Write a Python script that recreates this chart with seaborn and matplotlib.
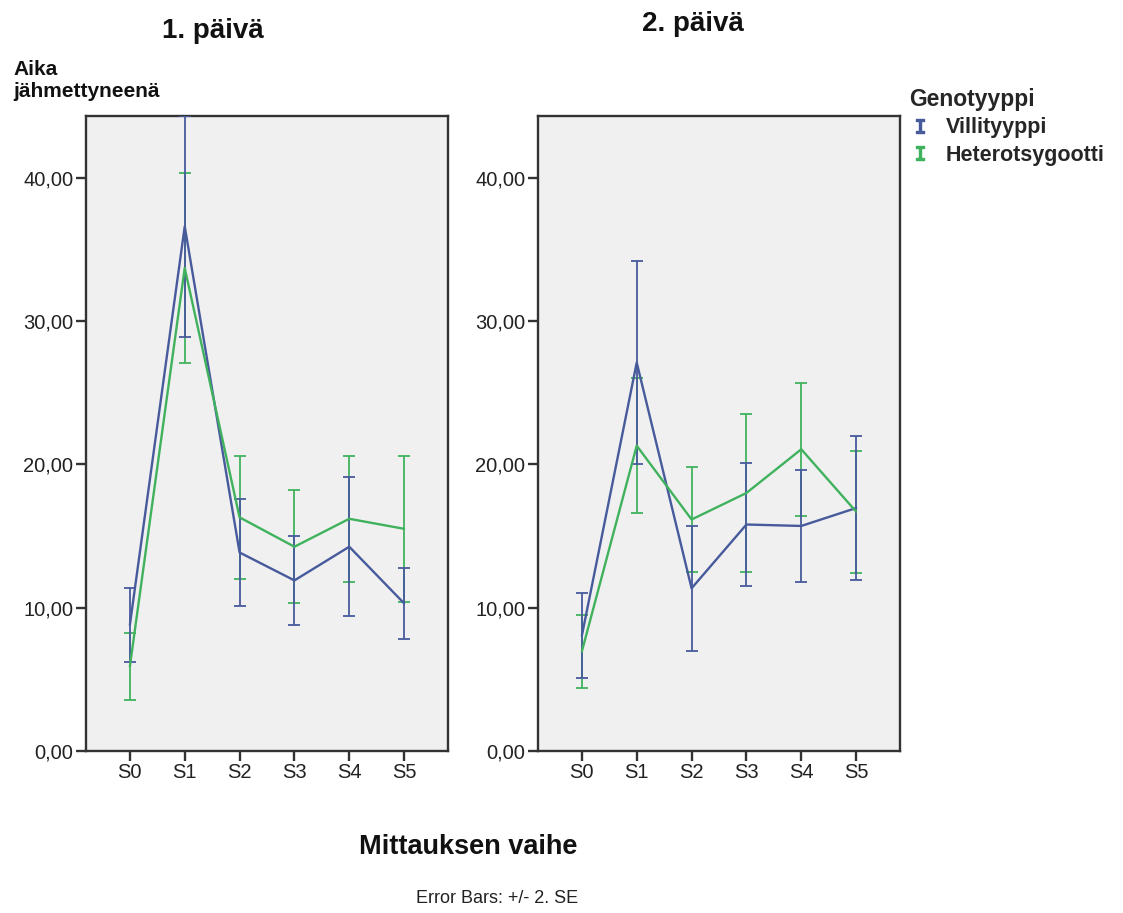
import matplotlib
matplotlib.use("Agg")
import matplotlib.pyplot as plt
from matplotlib.ticker import FuncFormatter, FixedLocator
from matplotlib.lines import Line2D
import seaborn as sns
import pandas as pd
import numpy as np

# ---- data ----
stages = ["S0", "S1", "S2", "S3", "S4", "S5"]
groups = ["Villityyppi", "Heterotsygootti"]
days = ["1. päivä", "2. päivä"]

day1_villi_mean = [8.8, 36.6, 13.85, 11.9, 14.25, 10.3]
day1_villi_err = [2.6, 7.7, 3.75, 3.1, 4.85, 2.5]
day1_hetero_mean = [5.9, 33.7, 16.3, 14.25, 16.2, 15.5]
day1_hetero_err = [2.35, 6.6, 4.3, 3.95, 4.4, 5.1]

day2_villi_mean = [8.05, 27.1, 11.35, 15.8, 15.7, 16.95]
day2_villi_err = [2.95, 7.1, 4.35, 4.3, 3.9, 5.05]
day2_hetero_mean = [6.95, 21.3, 16.15, 18.0, 21.05, 16.7]
day2_hetero_err = [2.55, 4.7, 3.65, 5.5, 4.65, 4.25]

yticks = [0, 10, 20, 30, 40]

# ---- style ----
sns.set_theme(style="white")
plt.rcParams["font.family"] = ["Liberation Sans", "DejaVu Sans"]

colors = {"Villityyppi": "#475a9c", "Heterotsygootti": "#40b25e"}

rows = []
for day, vm, ve, hm, he in [
    (days[0], day1_villi_mean, day1_villi_err, day1_hetero_mean, day1_hetero_err),
    (days[1], day2_villi_mean, day2_villi_err, day2_hetero_mean, day2_hetero_err),
]:
    for g, m, e in [(groups[0], vm, ve), (groups[1], hm, he)]:
        for s, mv, ev in zip(stages, m, e):
            rows.append({"day": day, "group": g, "stage": s, "mean": mv, "err": ev})
df = pd.DataFrame(rows)
df["pos"] = df["stage"].map({s: i for i, s in enumerate(stages)})

fig = plt.figure(figsize=(11.23, 9.13), dpi=100)
W, H = 1123, 913
ax_rects = [
    (86 / W, 1 - 751 / H, 362 / W, 635 / H),
    (538 / W, 1 - 751 / H, 362 / W, 635 / H),
]

spine_col = "#333333"
for i, day in enumerate(days):
    ax = fig.add_axes(ax_rects[i])
    ax.set_facecolor("#f0f0f0")
    sub = df[df["day"] == day]
    for g in [groups[1], groups[0]]:
        d = sub[sub["group"] == g]
        ax.errorbar(d["pos"], d["mean"], yerr=d["err"], fmt="none",
                    ecolor=colors[g], elinewidth=1.3, capsize=4.5, capthick=1.3,
                    zorder=3)
    sns.lineplot(data=sub, x="pos", y="mean", hue="group", hue_order=groups,
                 palette=colors, linewidth=1.7, legend=False, ax=ax,
                 errorbar=None, sort=False, zorder=4)
    ax.set_xlim(-0.8, 5.8)
    ax.set_ylim(0, 44.3)
    ax.xaxis.set_major_locator(FixedLocator(range(len(stages))))
    ax.set_xticklabels(stages)
    ax.yaxis.set_major_locator(FixedLocator(yticks))
    ax.yaxis.set_major_formatter(FuncFormatter(lambda v, p: f"{v:.2f}".replace(".", ",")))
    ax.set_xlabel("")
    ax.set_ylabel("")
    for sp in ax.spines.values():
        sp.set_color(spine_col)
        sp.set_linewidth(1.7)
    ax.tick_params(axis="both", which="major", direction="out", length=7, width=1.7,
                   color=spine_col, labelsize=14.5, labelcolor="#222222",
                   left=True, bottom=True, pad=2)

fig.text(213 / W, 1 - 38 / H, days[0], ha="center", va="baseline",
         fontsize=20, fontweight="bold", color="#111111")
fig.text(693 / W, 1 - 31 / H, days[1], ha="center", va="baseline",
         fontsize=20, fontweight="bold", color="#111111")
fig.text(13 / W, 1 - 75 / H, "Aika", ha="left", va="baseline",
         fontsize=15, fontweight="bold", color="#111111")
fig.text(13 / W, 1 - 97 / H, "jähmettyneenä", ha="left", va="baseline",
         fontsize=15, fontweight="bold", color="#111111")
fig.text(468 / W, 1 - 847 / H, "Mittauksen vaihe", ha="center", va="center",
         fontsize=19.5, fontweight="bold", color="#111111")
fig.text(497 / W, 1 - 898 / H, "Error Bars: +/- 2. SE", ha="center", va="center",
         fontsize=13, color="#222222")

handles = [Line2D([0], [0], linestyle="none", marker=r"$\mathtt{I}$",
                  markersize=10, color=colors[g]) for g in groups]
leg = fig.legend(handles, groups, title="Genotyyppi", loc="upper left",
                 bbox_to_anchor=(909 / W, 1 - 88 / H), frameon=False,
                 handlelength=1.0, handletextpad=0.7, borderaxespad=0,
                 borderpad=0, labelspacing=0.3,
                 prop={"weight": "bold", "size": 15.5},
                 title_fontproperties={"weight": "bold", "size": 16.5})
leg._legend_box.align = "left"

fig.savefig("out.png", dpi=100)
